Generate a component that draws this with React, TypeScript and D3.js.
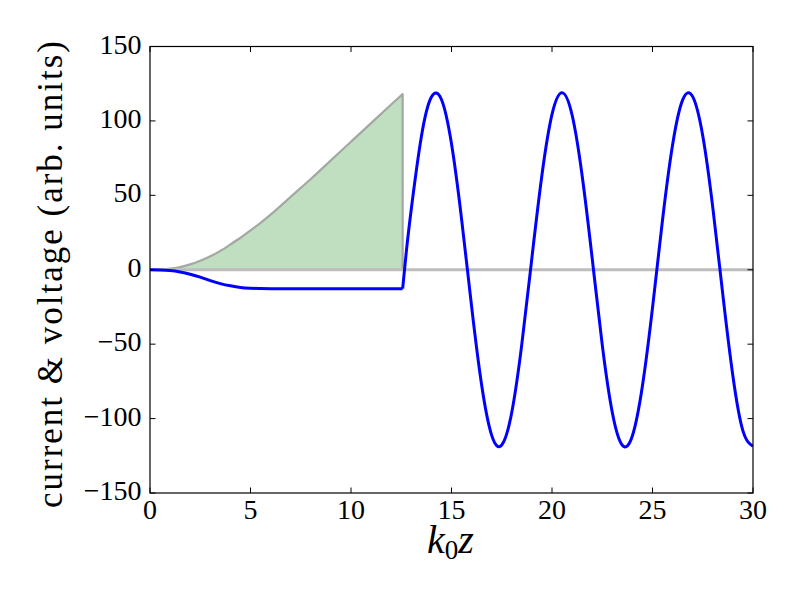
import React from "react";
import * as d3 from "d3";

// current (blue) before the jump
const blueX1 = [0, 0.5, 1, 1.5, 2, 2.5, 3, 3.5, 4, 4.5, 5, 5.5, 6, 7, 8, 10, 12, 12.57];
const blueY1 = [0, -0.1, -0.5, -1.5, -3, -5, -7.3, -9.3, -10.8, -11.9, -12.4, -12.6, -12.7, -12.7, -12.7, -12.7, -12.7, -12.7];
// current (blue) after the jump
const blueX2 = [12.57, 12.75, 13, 13.5, 14, 14.5, 15, 15.5, 16, 16.5, 17, 17.5, 18, 18.5, 19, 19.5, 20, 20.5, 21, 21.5, 22, 22.5, 23, 23.5, 24, 24.5, 25, 25.5, 26, 26.5, 27, 27.5, 28, 28.5, 29, 29.5, 30];
const blueY2 = [-12.7, 11.9, 40.8, 89.4, 116.1, 114.4, 84.6, 34.2, -24.6, -77.5, -111.3, -117.8, -95.7, -49.8, 8.0, 63.7, 104.4, 119, 104, 63.2, 7.6, -50.5, -95.9, -117.9, -111.5, -77.9, -25.6, 33.6, 84, 114.1, 116.3, 90, 41.7, -16.9, -71.4, -108.3, -118.6];
// voltage (green area)
const greenX = [0, 0.5, 1, 1.5, 2, 2.5, 3, 3.5, 4, 4.5, 5, 5.5, 6, 7, 8, 9, 10, 11, 12, 12.57];
const greenY = [0, 0.2, 0.7, 1.8, 3.6, 6, 9, 12.7, 17, 21.5, 26.5, 31.5, 37, 49, 61, 73.5, 86, 98.5, 111, 118];

const xTicks = [0, 5, 10, 15, 20, 25, 30];
const yTicks = [-150, -100, -50, 0, 50, 100, 150];

const L = 150, R = 753, T = 46.5, B = 493;

export default function App() {
  const x = d3.scaleLinear().domain([0, 30]).range([L, R]);
  const y = d3.scaleLinear().domain([-150, 150]).range([B, T]);

  const pts1 = blueX1.map((v, i) => [v, blueY1[i]] as [number, number]);
  const pts2 = blueX2.map((v, i) => [v, blueY2[i]] as [number, number]);
  const gpts = greenX.map((v, i) => [v, greenY[i]] as [number, number]);

  const line1 = d3.line<[number, number]>().x(d => x(d[0])).y(d => y(d[1])).curve(d3.curveMonotoneX);
  const line2 = d3.line<[number, number]>().x(d => x(d[0])).y(d => y(d[1])).curve(d3.curveNatural);
  const area = d3.area<[number, number]>().x(d => x(d[0])).y0(() => y(0)).y1(d => y(d[1])).curve(d3.curveMonotoneX);

  const areaPath = area(gpts) as string;
  const edgePath = (line1(gpts) as string) + `L${x(greenX[greenX.length - 1])},${y(0)}`;

  const tickLen = 5.5;
  const font = "'Liberation Serif', 'Times New Roman', serif";

  const minus = (v: number) => (v < 0 ? "\u2212" + Math.abs(v) : String(v));

  return (
    <svg width={800} height={600} style={{ position: "absolute", left: 0, top: 0, background: "#fff" }}>
      <rect x={0} y={0} width={800} height={600} fill="#fff" />
      <defs>
        <clipPath id="plotclip">
          <rect x={L} y={T} width={R - L} height={B - T} />
        </clipPath>
      </defs>
      <g clipPath="url(#plotclip)">
        <path d={areaPath} fill="#c0dfc0" stroke="none" />
        <path d={edgePath} fill="none" stroke="#a3a8a3" strokeWidth={2.2} strokeLinejoin="round" />
        <line x1={x(0)} x2={x(30)} y1={y(0)} y2={y(0)} stroke="#bdbdbd" strokeWidth={3} />
        <path d={line1(pts1) as string} fill="none" stroke="#0000ff" strokeWidth={3} />
        <path d={line2(pts2) as string} fill="none" stroke="#0000ff" strokeWidth={3} />
      </g>
      <rect x={L} y={T} width={R - L} height={B - T} fill="none" stroke="#000" strokeWidth={1.2} />
      {xTicks.map(t => (
        <g key={"x" + t}>
          <line x1={x(t)} x2={x(t)} y1={B} y2={B - tickLen} stroke="#000" strokeWidth={1} />
          <line x1={x(t)} x2={x(t)} y1={T} y2={T + tickLen} stroke="#000" strokeWidth={1} />
          <text x={x(t)} y={519} textAnchor="middle" fontFamily={font} fontSize={28}>{t}</text>
        </g>
      ))}
      {yTicks.map(t => (
        <g key={"y" + t}>
          <line x1={L} x2={L + tickLen} y1={y(t)} y2={y(t)} stroke="#000" strokeWidth={1} />
          <line x1={R} x2={R - tickLen} y1={y(t)} y2={y(t)} stroke="#000" strokeWidth={1} />
          <text x={141.5} y={y(t) + 7} textAnchor="end" fontFamily={font} fontSize={28}>{minus(t)}</text>
        </g>
      ))}
      <text
        transform={`translate(62,${274.5}) rotate(-90)`}
        textAnchor="middle"
        fontFamily={font}
        fontSize={35}
        textLength={467}
        lengthAdjust="spacing"
      >
        current &amp; voltage (arb. units)
      </text>
      <text x={450.5} y={553} textAnchor="middle" fontFamily={font} fontSize={40} fontStyle="italic">
        k<tspan fontStyle="normal" fontSize={27} dy={6}>0</tspan><tspan dy={-6}>z</tspan>
      </text>
    </svg>
  );
}
